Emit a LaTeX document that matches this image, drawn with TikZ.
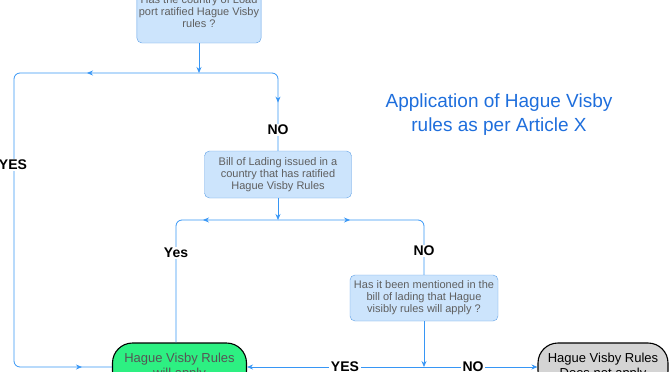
\documentclass[tikz,border=0pt]{standalone}
\usepackage{fontspec}
\setmainfont{Liberation Sans}
\usetikzlibrary{arrows.meta,positioning,decorations.markings}
\definecolor{hvLine}{RGB}{55,150,245}
\definecolor{hvBorder}{RGB}{95,160,230}
\definecolor{hvFill}{RGB}{204,228,252}
\definecolor{hvText}{RGB}{95,95,95}
\definecolor{hvGreen}{RGB}{45,240,130}
\definecolor{hvGrey}{RGB}{212,212,212}
\definecolor{hvTitle}{RGB}{30,110,220}

\begin{document}
\begin{tikzpicture}[x=1pt, y=-1pt,
  qbox/.style={draw=hvBorder, fill=hvFill, rounded corners=5, text=hvText,
               font=\fontsize{11}{12}\selectfont, align=center, inner sep=2},
  endbox/.style={draw=black, line width=1.1, rounded corners=20,
                 minimum height=48, font=\fontsize{13}{15}\selectfont, align=center},
  flow/.style={draw=hvLine, line width=0.8, rounded corners=6},
  tip/.style={-{Stealth[length=6,width=5]}},
  midtip/.style={postaction={decorate, decoration={markings,
                 mark=at position #1 with {\arrow[hvLine]{Stealth[length=6,width=5]}}}}},
  lbl/.style={font=\bfseries\fontsize{14}{16}\selectfont, fill=white, inner sep=1.5}
]
  \clip (0,0) rectangle (672,372);

  % questions
  \node[qbox, minimum width=124, minimum height=62] (q1) at (199,12)
        {Has the country of Load\\port ratified Hague Visby\\rules ?};
  \node[qbox, minimum width=147, minimum height=47] (q2) at (278,174.5)
        {Bill of Lading issued in a\\country that has ratified\\Hague Visby Rules};
  \node[qbox, minimum width=148, minimum height=46] (q3) at (424,298)
        {Has it been mentioned in the\\bill of lading that Hague\\visibly rules will apply ?};

  % outcomes
  \node[endbox, fill=hvGreen, text=hvText!90!black, minimum width=134] (hv) at (179.5,367)
        {Hague Visby Rules\\will apply};
  \node[endbox, fill=hvGrey, minimum width=130] (hn) at (603,367)
        {Hague Visby Rules\\Does not apply};

  \node[text=hvTitle, font=\fontsize{19}{24}\selectfont, align=center] (title) at (499,115)
        {Application of Hague Visby\\rules as per Article X};

  % junctions
  \coordinate (j1) at (199,73);
  \coordinate (l1) at (14,73);
  \coordinate (r1) at (278,73);
  \coordinate (j2) at (278,220);
  \coordinate (l2) at (176,220);
  \coordinate (r2) at (424,220);
  \coordinate (j3) at (424,367);

  % connectors
  \draw[flow, tip] (q1) -- (j1);
  \draw[flow, midtip=112pt, midtip=-30pt] (j1) -- (l1) |- (hv.west);
  \draw[flow, midtip=106pt] (j1) -- (r1) -- (q2.north);
  \draw[flow, tip] (q2) -- (j2);
  \draw[flow, midtip=75pt] (j2) -- (l2) -- (l2 |- hv.north);
  \draw[flow, midtip=72pt] (j2) -- (r2) -- (q3.north);
  \draw[flow, tip] (q3) -- (j3);
  \draw[flow, tip] (j3) -- (hv.east);
  \draw[flow, tip] (j3) -- (hn.west);

  % labels
  \node[lbl] (noA) at (278,130) {NO};
  \node[lbl] (yesA) at (13,165) {YES};
  \node[lbl] (yesB) at (176,253) {Yes};
  \node[lbl] (noB) at (424,251) {NO};
  \node[lbl] (yesC) at (345,367) {YES};
  \node[lbl] (noC) at (473,367) {NO};
\end{tikzpicture}
\end{document}
